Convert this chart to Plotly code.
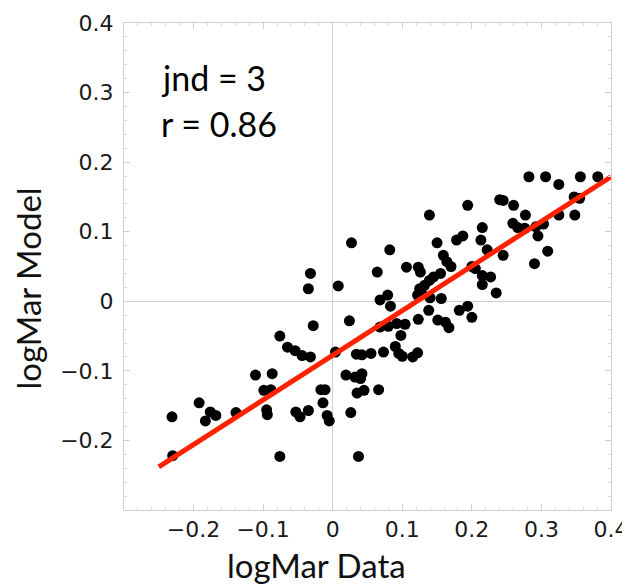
# -*- coding: utf-8 -*-
"""
logMar model vs data scatter, with fitted line
"""

import plotly.graph_objects as go

# ------------------------------- DATA --------------------------------- #
logmar_data = [
    -0.231, -0.230, -0.192, -0.183, -0.176, -0.168, -0.139, -0.111, -0.087, -0.099,
    -0.089, -0.095, -0.094, -0.076, -0.065, -0.054, -0.044, -0.032, -0.028, -0.076,
    -0.053, -0.047, -0.035, -0.017, -0.011, -0.014, -0.008, -0.005, 0.004, 0.027,
    -0.032, -0.035, 0.008, 0.024, 0.068, 0.080, 0.092, 0.104, 0.098, 0.123,
    0.138, 0.151, 0.162, 0.167, 0.182, 0.034, 0.042, 0.055, 0.073, 0.090,
    0.095, 0.100, 0.115, 0.122, 0.019, 0.032, 0.042, 0.040, 0.035, 0.045,
    0.066, 0.026, 0.037, 0.082, 0.064, 0.106, 0.139, 0.194, 0.150, 0.178,
    0.187, 0.159, 0.164, 0.170, 0.123, 0.126, 0.145, 0.155, 0.139, 0.132,
    0.125, 0.128, 0.122, 0.140, 0.156, 0.068, 0.079, 0.083, 0.194, 0.200,
    0.205, 0.215, 0.213, 0.222, 0.215, 0.227, 0.215, 0.235, 0.245, 0.240,
    0.245, 0.260, 0.277, 0.259, 0.266, 0.276, 0.292, 0.303, 0.295, 0.309,
    0.290, 0.282, 0.306, 0.325, 0.356, 0.381, 0.347, 0.355, 0.325, 0.348,
    0.200,
]
logmar_model = [
    -0.166, -0.222, -0.146, -0.172, -0.159, -0.164, -0.160, -0.106, -0.104, -0.128,
    -0.127, -0.156, -0.163, -0.050, -0.066, -0.071, -0.078, -0.080, -0.035, -0.223,
    -0.159, -0.166, -0.157, -0.127, -0.127, -0.146, -0.164, -0.172, -0.073, 0.084,
    0.040, 0.018, 0.022, -0.028, -0.037, -0.036, -0.032, -0.033, -0.049, -0.026,
    -0.013, -0.027, -0.030, -0.038, -0.013, -0.076, -0.077, -0.075, -0.073, -0.065,
    -0.075, -0.079, -0.080, -0.074, -0.106, -0.109, -0.104, -0.111, -0.132, -0.128,
    -0.127, -0.160, -0.223, 0.074, 0.042, 0.049, 0.124, 0.138, 0.084, 0.088,
    0.094, 0.066, 0.057, 0.050, 0.049, 0.042, 0.035, 0.040, 0.030, 0.023,
    0.018, 0.011, 0.009, 0.005, 0.004, 0.002, 0.009, -0.007, -0.007, 0.050,
    0.047, 0.106, 0.088, 0.074, 0.037, 0.035, 0.024, 0.012, 0.066, 0.146,
    0.145, 0.138, 0.124, 0.112, 0.106, 0.105, 0.107, 0.111, 0.094, 0.072,
    0.054, 0.179, 0.179, 0.168, 0.179, 0.179, 0.150, 0.148, 0.124, 0.124,
    -0.023,
]

# fitted line end points
fit_x = [-0.250, 0.400]
fit_y = [-0.238, 0.179]

label_jnd = 'jnd = 3'
label_r = 'r = 0.86'
title_x = 'logMar Data'
title_y = 'logMar Model'

x_ticks = [-0.2, -0.1, 0, 0.1, 0.2, 0.3, 0.4]
y_ticks = [-0.2, -0.1, 0, 0.1, 0.2, 0.3, 0.4]


def tick_text(vals):
    return [('\u2212' if v < 0 else '') + ('%g' % abs(v)) for v in vals]


# ------------------------------ VISUALIZE ----------------------------- #
fig = go.Figure()

fig.add_trace(go.Scatter(
    x=logmar_data, y=logmar_model, mode='markers',
    marker=dict(color='black', size=11, line=dict(width=0)),
    showlegend=False,
))
fig.add_trace(go.Scatter(
    x=fit_x, y=fit_y, mode='lines',
    line=dict(color='#ff2200', width=5),
    showlegend=False,
))

axis_common = dict(
    automargin=False,
    showgrid=False,
    zeroline=True, zerolinecolor='#d0d0d0', zerolinewidth=1,
    showline=True, linecolor='#cfcfcf', linewidth=1, mirror='allticks',
    ticks='inside', ticklen=6, tickcolor='#cfcfcf', tickwidth=1,
    minor=dict(ticks='inside', ticklen=3, tickcolor='#d8d8d8', dtick=0.02),
    tickfont=dict(family='DejaVu Sans', size=22, color='#1a1a1a'),
    range=[-0.3, 0.4],
)

fig.update_xaxes(**axis_common, tickvals=x_ticks, ticktext=tick_text(x_ticks))
fig.update_yaxes(**axis_common, tickvals=y_ticks, ticktext=tick_text(y_ticks),
                 ticklabelstandoff=5)

title_font = dict(family='Lato', size=33, color='#111')
fig.add_annotation(xref='paper', yref='paper', x=0.395, y=-0.113, text=title_x,
                   showarrow=False, xanchor='center', yanchor='middle', font=title_font)
fig.add_annotation(xref='paper', yref='paper', x=-0.197, y=0.455, text=title_y,
                   showarrow=False, xanchor='center', yanchor='middle', textangle=-90,
                   font=title_font)

fig.add_annotation(x=-0.249, y=0.321, text=label_jnd, showarrow=False,
                   xanchor='left', yanchor='middle',
                   font=dict(family='Lato', size=34, color='black'))
fig.add_annotation(x=-0.249, y=0.256, text=label_r, showarrow=False,
                   xanchor='left', yanchor='middle',
                   font=dict(family='Lato', size=34, color='black'))

# page body has an 8 px margin, so the figure is 8 px smaller than the window
fig.update_layout(
    width=622, height=578,
    margin=dict(l=116, r=19, t=15, b=76),
    plot_bgcolor='white', paper_bgcolor='white',
)

fig.write_html('out.html')
